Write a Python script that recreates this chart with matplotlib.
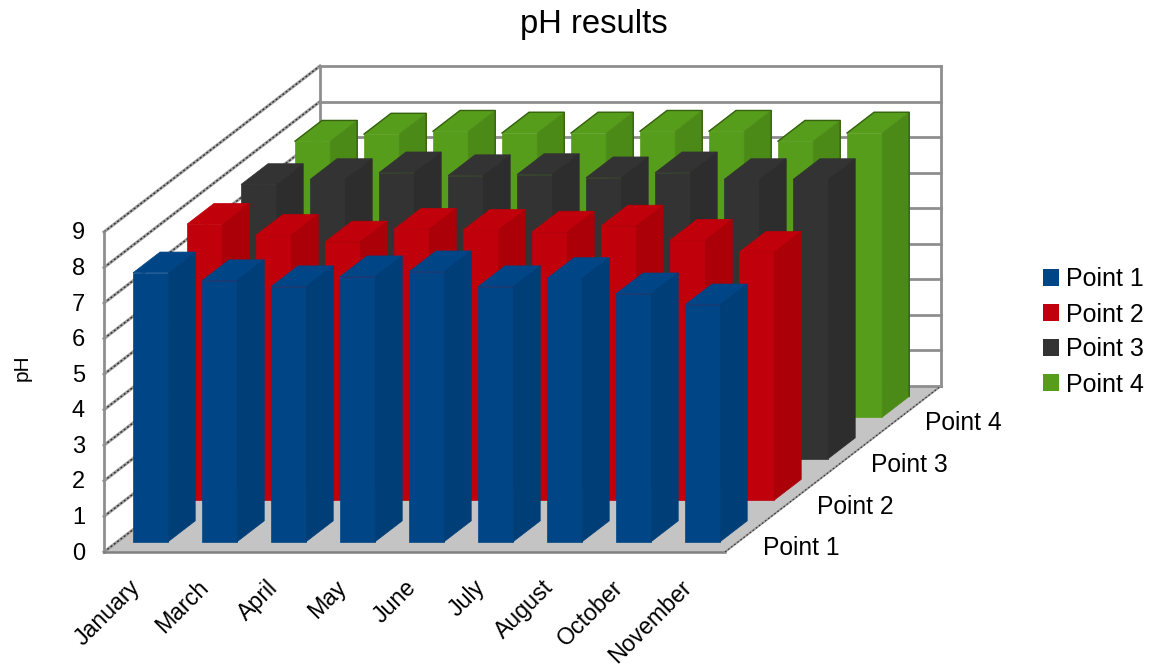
import matplotlib
matplotlib.use('Agg')
import matplotlib.pyplot as plt
from matplotlib.patches import Patch, Polygon

plt.rcParams['font.family'] = ['Liberation Sans', 'DejaVu Sans']

months = ['January', 'March', 'April', 'May', 'June', 'July', 'August', 'October', 'November']
series_names = ['Point 1', 'Point 2', 'Point 3', 'Point 4']
ph_ticks = [0, 1, 2, 3, 4, 5, 6, 7, 8, 9]

point_1 = [7.56, 7.34, 7.17, 7.45, 7.59, 7.17, 7.40, 6.97, 6.66]
point_2 = [7.76, 7.45, 7.26, 7.62, 7.59, 7.54, 7.71, 7.31, 6.97]
point_3 = [7.71, 7.85, 8.04, 7.96, 7.99, 7.90, 8.04, 7.85, 7.85]
point_4 = [7.76, 7.96, 8.04, 7.99, 7.99, 8.04, 8.04, 7.76, 7.99]
series_values = [point_1, point_2, point_3, point_4]

# front, side, outline
face_colors = [
    ('#004586', '#003e78', None),
    ('#c0000a', '#ab0008', None),
    ('#333333', '#2d2d2d', None),
    ('#579d1c', '#4c8a18', '#36620f'),
]

# oblique projection of the chart box onto the canvas (pixels)
ORIGIN_X, ORIGIN_Y = 104.0, 552.0
CAT_W = 69.0
UNIT_H = 35.56
DEPTH_X, DEPTH_Y = 216.0 / 4, -166.0 / 4
BAR_START = 0.225
BAR_W = 0.51
WALL_GREY = '#8e8e8e'


def project(cat, depth, value):
    """Category, series depth and pH value to canvas x, y."""
    x = ORIGIN_X + cat * CAT_W + depth * DEPTH_X
    y = ORIGIN_Y + depth * DEPTH_Y - value * UNIT_H
    return x, y


def draw_bar(ax, cat, depth, value, colors):
    front, side, outline = colors
    x0, x1 = cat + BAR_START, cat + BAR_START + BAR_W
    d0, d1 = depth + 0.25, depth + 0.75
    # top shares the front colour, so the two read as one shape
    top_pts = [project(x0, d0, value), project(x1, d0, value), project(x1, d1, value), project(x0, d1, value)]
    front_pts = [project(x0, d0, 0), project(x1, d0, 0), project(x1, d0, value), project(x0, d0, value)]
    side_pts = [project(x1, d0, 0), project(x1, d1, 0), project(x1, d1, value), project(x1, d0, value)]
    for pts, color in ((top_pts, front), (front_pts, front), (side_pts, side)):
        ax.add_patch(Polygon(pts, closed=True, facecolor=color, edgecolor=color, linewidth=0.5, zorder=3))
    if outline:
        edge = [project(x0, d0, value), project(x0, d1, value), project(x1, d1, value), project(x1, d1, 0)]
        ax.plot(*zip(*edge), color=outline, linewidth=1.0, zorder=3)


fig = plt.figure(figsize=(11.53, 6.66), dpi=100)
ax = fig.add_axes([0, 0, 1, 1])
ax.set_xlim(0, 1153)
ax.set_ylim(666, 0)
ax.axis('off')

n_cat, n_depth = len(months), len(series_names)
top_val = ph_ticks[-1]

# floor
floor = [project(0, 0, 0), project(n_cat, 0, 0), project(n_cat, n_depth, 0), project(0, n_depth, 0)]
ax.add_patch(Polygon(floor, closed=True, facecolor='#c4c4c4', edgecolor='none', zorder=1))

# back wall and side wall grid
for v in ph_ticks:
    ax.plot(*zip(project(0, n_depth, v), project(n_cat, n_depth, v)), color=WALL_GREY, linewidth=2.0, zorder=2)
    side = list(zip(project(0, 0, v), project(0, n_depth, v)))
    ax.plot(*side, color='#a0a0a0', linewidth=2.2, zorder=2)
    ax.plot(*side, color='#333333', linewidth=1.0, linestyle=(0, (1.5, 1.5)), zorder=2)
for cat, depth in ((0, 0), (0, n_depth), (n_cat, n_depth)):
    ax.plot(*zip(project(cat, depth, 0), project(cat, depth, top_val)), color=WALL_GREY, linewidth=2.0, zorder=2)
ax.plot(*zip(project(0, 0, 0), project(n_cat, 0, 0)), color='#808080', linewidth=1.8, zorder=2)
right_edge = list(zip(project(n_cat, 0, 0), project(n_cat, n_depth, 0)))
ax.plot(*right_edge, color='#9a9a9a', linewidth=1.4, zorder=2)
ax.plot(*right_edge, color='#333333', linewidth=0.8, linestyle=(0, (1.5, 2)), zorder=2)

# back rows first so the nearer ones cover them
for depth in reversed(range(n_depth)):
    for cat in range(n_cat):
        draw_bar(ax, cat, depth, series_values[depth][cat], face_colors[depth])

# value axis
for v in ph_ticks:
    x, y = project(0, 0, v)
    ax.text(x - 19, y + 1.5, str(v), ha='right', va='center', fontsize=17, color='black')

# category axis
for i, name in enumerate(months):
    x, _ = project(i, 0, 0)
    ax.text(x + 24, 576, name, rotation=45, rotation_mode='anchor', ha='right', va='top',
            fontsize=16.7, color='black')

# depth axis
for depth, name in enumerate(series_names):
    x, y = project(n_cat, depth, 0)
    ax.text(x + 38, y - 4, name, ha='left', va='center', fontsize=17.7, color='black')

ax.text(594, 24, 'pH results', ha='center', va='center', fontsize=23.6, color='black')
ax.text(22, 368, 'pH', rotation=90, ha='center', va='center', fontsize=15, color='black')

handles = [Patch(facecolor=c[0], edgecolor='none', label=n) for c, n in zip(face_colors, series_names)]
ax.legend(handles=handles, loc='center left', bbox_to_anchor=(1043 / 1153, 1 - 332 / 666),
          frameon=False, fontsize=18, handlelength=0.64, handleheight=0.64, handletextpad=0.28,
          labelspacing=0.44, borderpad=0, borderaxespad=0)

fig.savefig('out.png', dpi=100)
